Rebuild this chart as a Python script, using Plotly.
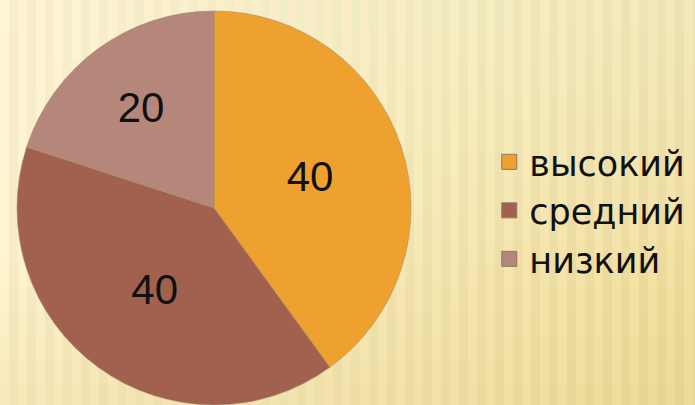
import plotly.graph_objects as go

labels = ["высокий", "средний", "низкий"]
values = [40, 40, 20]
colors = ["#EFA130", "#A2614F", "#B4877A"]

W, H = 695, 405

fig = go.Figure()
fig.add_trace(go.Pie(
    labels=labels,
    values=values,
    sort=False,
    direction="clockwise",
    rotation=0,
    marker=dict(colors=colors, line=dict(color="#9A8A70", width=0.5)),
    textinfo="value",
    textposition="inside",
    insidetextorientation="horizontal",
    textfont=dict(family="Liberation Sans, Arial", size=42, color="#111111"),
    domain=dict(x=[14 / W, 414 / W], y=[0.0, 0.973]),
    hoverinfo="none",
    showlegend=False,
))

# legend entries (square markers) matching the slices
for lab, col in zip(labels, colors):
    fig.add_trace(go.Scatter(
        x=[None], y=[None], mode="markers", name=lab,
        marker=dict(symbol="square", size=15, color=col,
                    line=dict(color="#8A7A60", width=1)),
        hoverinfo="none",
    ))

shapes = []
# background: soft vertical stripes, lighter on the left, darker on the right
left = (251, 241, 203)
right = (239, 221, 158)
step = 9
n = W // step + 1
for i in range(n):
    t = i / n
    base = [left[k] + (right[k] - left[k]) * t for k in range(3)]
    d = 4 if i % 2 == 0 else -3
    c = "rgb(%d,%d,%d)" % tuple(max(0, min(255, int(v + d))) for v in base)
    shapes.append(dict(type="rect", xref="paper", yref="paper", layer="below",
                       x0=i * step / W, x1=min(1, (i + 1) * step / W), y0=0, y1=1,
                       fillcolor=c, line=dict(width=0)))
# vertical gradient overlay (lighter toward top)
for k in range(8):
    shapes.append(dict(type="rect", xref="paper", yref="paper", layer="below",
                       x0=0, x1=1, y0=0.4 + k * 0.075, y1=1,
                       fillcolor="#FFFBEA", opacity=0.05, line=dict(width=0)))
for k in range(6):
    shapes.append(dict(type="rect", xref="paper", yref="paper", layer="below",
                       x0=0, x1=1, y0=0, y1=0.35 - k * 0.06,
                       fillcolor="#D9C080", opacity=0.04, line=dict(width=0)))

fig.update_layout(
    width=W, height=H,
    margin=dict(l=0, r=0, t=0, b=0),
    paper_bgcolor="#F4E3B0",
    plot_bgcolor="rgba(0,0,0,0)",
    shapes=shapes,
    xaxis=dict(visible=False),
    yaxis=dict(visible=False),
    showlegend=True,
    legend=dict(x=0.704, y=0.48, xanchor="left", yanchor="middle",
                font=dict(family="DejaVu Sans", size=35, color="#111111"),
                bgcolor="rgba(0,0,0,0)", itemwidth=30, tracegroupgap=0,
                itemsizing="trace"),
)

fig.write_html("out.html", config={"displayModeBar": False},
               post_script="document.body.style.margin='0';")
